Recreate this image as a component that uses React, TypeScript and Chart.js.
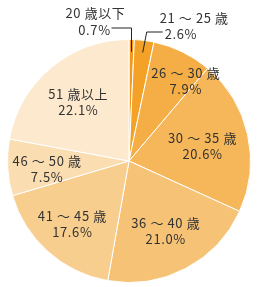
import React, { useEffect, useRef } from "react";
import { Chart, registerables } from "chart.js";

Chart.register(...registerables);

const categories = ["20 歳以下", "21 ～ 25 歳", "26 ～ 30 歳", "30 ～ 35 歳", "36 ～ 40 歳", "41 ～ 45 歳", "46 ～ 50 歳", "51 歳以上"];
const values = [0.7, 2.6, 7.9, 20.6, 21.0, 17.6, 7.5, 22.1];
const percentLabels = ["0.7%", "2.6%", "7.9%", "20.6%", "21.0%", "17.6%", "7.5%", "22.1%"];
const colors = ["#F39A1C", "#F3A227", "#F5AE45", "#F5B75A", "#F6C276", "#F8CE8F", "#FADDB0", "#FDE9CE"];

// label placement: radius fraction (inside labels) plus a pixel nudge
const labelRadius = [0, 0, 0.8, 0.62, 0.65, 0.7, 0.7, 0.64];
const labelNudge: [number, number][] = [[0, 0], [0, 0], [14, 7], [0, 1], [0, 0], [0, 0], [3, 4], [-1, 1]];

const FONT = '13px "Noto Sans CJK JP", "Noto Sans", sans-serif';
const TEXT = "#333333";

const labelPlugin = {
  id: "sliceLabels",
  afterDatasetsDraw(chart: any) {
    const ctx = chart.ctx;
    const meta = chart.getDatasetMeta(0);
    ctx.save();
    ctx.font = FONT;
    (ctx as any).letterSpacing = "0.6px";
    ctx.fillStyle = TEXT;
    ctx.textAlign = "center";
    ctx.textBaseline = "middle";
    const lh = 16;
    meta.data.forEach((arc: any, i: number) => {
      const { x, y, startAngle, endAngle, outerRadius } = arc.getProps(["x", "y", "startAngle", "endAngle", "outerRadius"], true);
      const mid = (startAngle + endAngle) / 2;
      if (i === 0 || i === 1) {
        const ex = x + Math.cos(mid) * (outerRadius * 0.9);
        const ey = y + Math.sin(mid) * (outerRadius * 0.9);
        ctx.strokeStyle = "#222";
        ctx.lineWidth = 1;
        ctx.beginPath();
        if (i === 0) {
          const cx = Math.round(ex) + 0.5;
          const ly = y - outerRadius - 11.5;
          ctx.moveTo(cx, ey);
          ctx.lineTo(cx, ly);
          ctx.lineTo(cx - 20, ly);
          ctx.stroke();
          ctx.fillText(categories[i], cx - 36, ly - lh + 1);
          ctx.fillText(percentLabels[i], cx - 37, ly + 2);
        } else {
          const ly = y - outerRadius - 7.5;
          ctx.moveTo(ex, ey);
          ctx.lineTo(ex + 4, ly);
          ctx.lineTo(ex + 20, ly);
          ctx.stroke();
          ctx.textAlign = "left";
          ctx.fillText(categories[i], ex + 17, ly - lh + 2);
          ctx.fillText(percentLabels[i], ex + 22, ly + 2);
          ctx.textAlign = "center";
        }
        return;
      }
      const r = outerRadius * labelRadius[i];
      const lx = x + Math.cos(mid) * r + labelNudge[i][0];
      const ly = y + Math.sin(mid) * r + labelNudge[i][1];
      ctx.fillText(categories[i], lx, ly - lh / 2);
      ctx.fillText(percentLabels[i], lx, ly + lh / 2);
    });
    ctx.restore();
  },
};

export default function App() {
  const ref = useRef<HTMLCanvasElement>(null);
  useEffect(() => {
    if (!ref.current) return;
    const chart = new Chart(ref.current, {
      type: "pie",
      data: {
        labels: categories,
        datasets: [
          {
            data: values,
            backgroundColor: colors,
            borderColor: "#ffffff",
            borderWidth: 1,
            hoverOffset: 0,
          },
        ],
      },
      options: {
        responsive: false,
        animation: false,
        events: [],
        layout: { padding: { top: 39, bottom: 4, left: 6, right: 7 } },
        plugins: {
          legend: { display: false },
          tooltip: { enabled: false },
        },
      },
      plugins: [labelPlugin],
    });
    return () => chart.destroy();
  }, []);
  return (
    <div style={{ position: "fixed", left: 0, top: 0, width: 259, height: 287, background: "#fff" }}>
      <canvas ref={ref} width={259} height={287} style={{ display: "block", width: 259, height: 287 }} />
    </div>
  );
}
